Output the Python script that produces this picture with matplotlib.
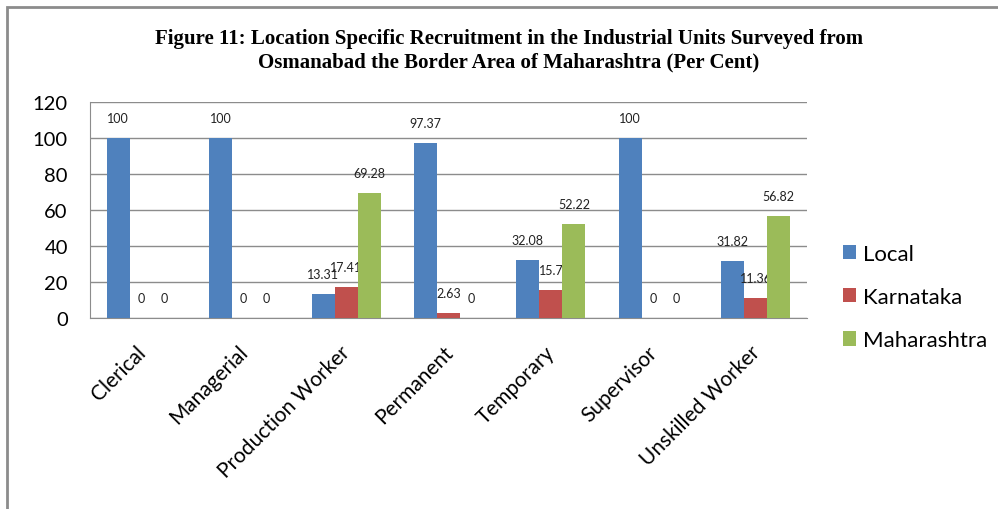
# Figure 11: location specific recruitment, Osmanabad
import numpy as np
import matplotlib.pyplot as plt
import matplotlib.transforms as mtrans
from matplotlib.patches import Rectangle

# Data (per cent)
categories = ["Clerical", "Managerial", "Production Worker", "Permanent",
              "Temporary", "Supervisor", "Unskilled Worker"]
local = [100, 100, 13.31, 97.37, 32.08, 100, 31.82]
karnataka = [0, 0, 17.41, 2.63, 15.7, 0, 11.36]
maharashtra = [0, 0, 69.28, 0, 52.22, 0, 56.82]
label_text = {
    "Local": ["100", "100", "13.31", "97.37", "32.08", "100", "31.82"],
    "Karnataka": ["0", "0", "17.41", "2.63", "15.7", "0", "11.36"],
    "Maharashtra": ["0", "0", "69.28", "0", "52.22", "0", "56.82"],
}

series = [("Local", local, "#4F81BD"),
          ("Karnataka", karnataka, "#C0504D"),
          ("Maharashtra", maharashtra, "#9BBB59")]

plt.rcParams['font.family'] = ['Lato', 'DejaVu Sans']

fig = plt.figure(figsize=(9.98, 5.10), dpi=100)
ax = fig.add_axes([90/998, 1-319/510, (807-90)/998, (319-103)/510])

x = np.arange(len(categories))
w = 0.225
for i, (name, vals, col) in enumerate(series):
    pos = x + (i-1)*w
    ax.bar(pos, vals, width=w, color=col, label=name, zorder=3)
    for p, v, t in zip(pos, vals, label_text[name]):
        ax.annotate(t, (p, v), xytext=(0, 20), textcoords='offset pixels',
                    ha='center', va='center', fontsize=9, color='#222222')

ax.set_xlim(-0.5, len(categories)-0.5)
ax.set_ylim(0, 120)
ax.set_yticks(range(0, 121, 20))
ax.yaxis.grid(True, color='#8c8c8c', linewidth=1, zorder=0)
ax.tick_params(axis='y', length=0, pad=16, labelsize=14.5)
ax.tick_params(axis='x', length=0, pad=17, labelsize=15)
ax.set_xticks(x)
ax.set_xticklabels(categories, rotation=45, ha='right', va='top', rotation_mode='anchor')
shift = mtrans.ScaledTranslation(-6/100, 0, fig.dpi_scale_trans)
for lab in ax.get_xticklabels():
    lab.set_transform(lab.get_transform() + shift)
for s in ['top', 'right']:
    ax.spines[s].set_visible(False)
for s in ['left', 'bottom']:
    ax.spines[s].set_color('#8c8c8c')

fig.legend(loc='center left', bbox_to_anchor=(843/998, 1-298/510),
           frameon=False, fontsize=16, handlelength=0.6, handleheight=0.6,
           handletextpad=0.3, labelspacing=1.05, borderpad=0, borderaxespad=0)

fig.text(509/998, 1-44/510,
         "Figure 11: Location Specific Recruitment in the Industrial Units Surveyed from",
         family='Liberation Serif', weight='bold', fontsize=15, ha='center', va='baseline')
fig.text(509/998, 1-67/510,
         "Osmanabad the Border Area of Maharashtra (Per Cent)",
         family='Liberation Serif', weight='bold', fontsize=15, ha='center', va='baseline')

# outer frame of the chart
fig.patches.append(Rectangle((7/998, -0.1), 1.2, 1.1-8/510, transform=fig.transFigure,
                             fill=False, edgecolor='#8c8c8c', linewidth=2))

plt.savefig("out.png", dpi=100)
